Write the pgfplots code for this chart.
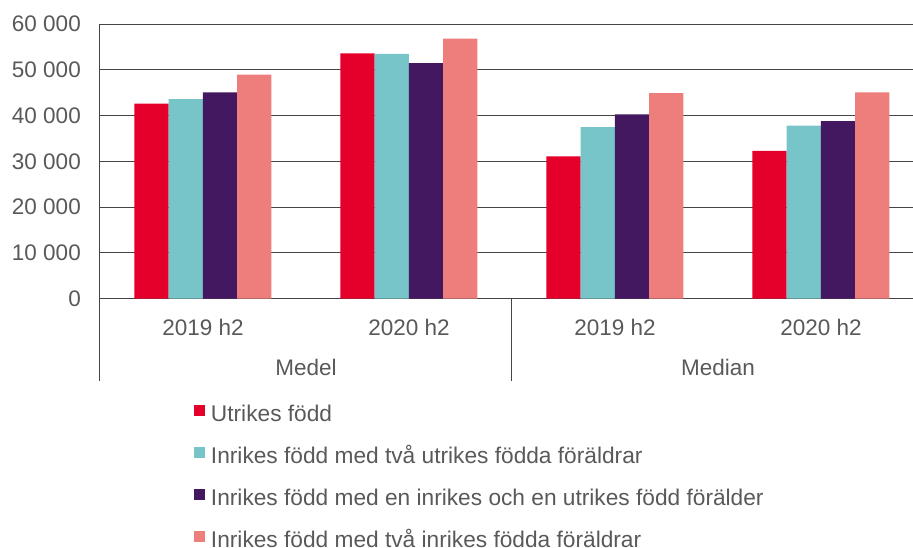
\documentclass[border=0pt]{standalone}
\usepackage{pgfplots}
\pgfplotsset{compat=1.18}
\usepackage{fontspec}
\setmainfont{Liberation Sans}
\definecolor{cRed}{HTML}{E4002B}
\definecolor{cTeal}{HTML}{77C5C8}
\definecolor{cPurple}{HTML}{441860}
\definecolor{cPink}{HTML}{EE7E7B}
\definecolor{txt}{HTML}{595959}
\definecolor{gridc}{HTML}{454545}
\begin{document}
\begin{tikzpicture}[font=\fontsize{22.5pt}{26pt}\selectfont]
\begin{axis}[
  at={(0pt,0pt)}, anchor=south west,
  scale only axis, width=813pt, height=274.7pt,
  xmin=-0.5, xmax=3.447, ymin=0, ymax=60000,
  clip=false,
  scaled y ticks=false,
  ybar=0pt, bar width=0.1663,
  axis line style={draw=none},
  major tick length=0pt,
  xtick={0,1,2,3},
  xticklabels={2019 h2,2020 h2,2019 h2,2020 h2},
  xticklabel style={anchor=center, yshift=-28.7pt, text=txt},
  ytick={0,10000,20000,30000,40000,50000,60000},
  yticklabels={0,10 000,20 000,30 000,40 000,50 000,60 000},
  yticklabel style={anchor=east, inner sep=0pt, xshift=-19pt, text=txt},
  ymajorgrids, grid style={color=gridc, line width=1pt},
  legend image code/.code={\fill[#1] (0pt,0pt) rectangle (11pt,11pt);},
  legend cell align=left,
  legend style={at={(axis description cs:0.1156,-0.387)}, anchor=north west,
    draw=none, fill=none, inner sep=0pt, outer sep=0pt,
    row sep=20.6pt, column sep=6pt, text=txt,
    font=\fontsize{22.7pt}{26pt}\selectfont,
    nodes={inner sep=0pt, text height=16pt, text depth=5pt}},
]
\addplot[fill=cRed, draw=none] coordinates {(0,42600) (1,53600) (2,31100) (3,32300)};
\addplot[fill=cTeal, draw=none] coordinates {(0,43600) (1,53450) (2,37500) (3,37800)};
\addplot[fill=cPurple, draw=none] coordinates {(0,45080) (1,51480) (2,40270) (3,38800)};
\addplot[fill=cPink, draw=none] coordinates {(0,48930) (1,56800) (2,44930) (3,45080)};
\legend{Utrikes född,Inrikes född med två utrikes födda föräldrar,Inrikes född med en inrikes och en utrikes född förälder,Inrikes född med två inrikes födda föräldrar}
\draw[color=gridc, line width=1pt] (axis cs:-0.5,60000) -- (axis cs:-0.5,0);
\draw[color=gridc, line width=1pt] (axis cs:-0.5,0) -- ([yshift=-82pt]axis cs:-0.5,0);
\draw[color=gridc, line width=1pt] (axis cs:1.5,0) -- ([yshift=-82pt]axis cs:1.5,0);
\node[text=txt] at (axis cs:0.5,0) [yshift=-68.3pt] {Medel};
\node[text=txt] at (axis cs:2.5,0) [yshift=-68.3pt] {Median};
\end{axis}
\pgfresetboundingbox
\useasboundingbox (-100pt,-248.3pt) rectangle (813pt,298.7pt);
\end{tikzpicture}
\end{document}
